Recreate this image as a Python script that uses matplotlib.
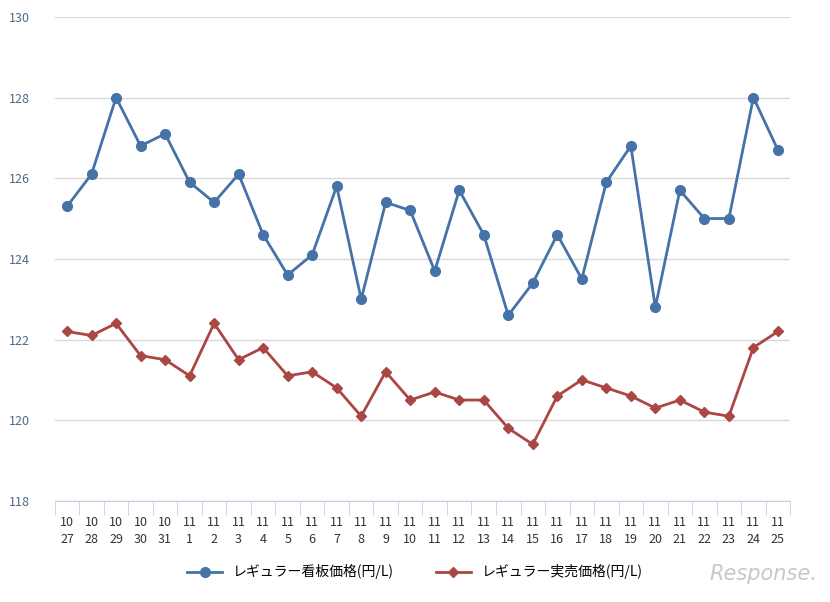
import matplotlib.pyplot as plt

plt.rcParams["font.family"] = "Noto Sans CJK JP"

months = ["10"] * 5 + ["11"] * 25
days = ["27", "28", "29", "30", "31"] + [str(d) for d in range(1, 26)]
board = [125.3, 126.1, 128.0, 126.8, 127.1, 125.9, 125.4, 126.1, 124.6, 123.6,
         124.1, 125.8, 123.0, 125.4, 125.2, 123.7, 125.7, 124.6, 122.6, 123.4,
         124.6, 123.5, 125.9, 126.8, 122.8, 125.7, 125.0, 125.0, 128.0, 126.7]
actual = [122.2, 122.1, 122.4, 121.6, 121.5, 121.1, 122.4, 121.5, 121.8, 121.1,
          121.2, 120.8, 120.1, 121.2, 120.5, 120.7, 120.5, 120.5, 119.8, 119.4,
          120.6, 121.0, 120.8, 120.6, 120.3, 120.5, 120.2, 120.1, 121.8, 122.2]
labels = [m + "\n" + d for m, d in zip(months, days)]

fig = plt.figure(figsize=(8.3, 6.02), dpi=100)
ax = fig.add_axes([0.066, 0.168, 0.886, 0.804])
x = range(len(labels))
ax.plot(x, board, color="#4572a7", lw=2, marker="o", ms=7, label="レギュラー看板価格(円/L)")
ax.plot(x, actual, color="#aa4643", lw=2, marker="D", ms=5, label="レギュラー実売価格(円/L)")

ax.set_xlim(-0.5, len(labels) - 0.5)
ax.set_ylim(118, 130)
ax.set_yticks(range(118, 131, 2))
ax.grid(axis="y", color="#d8d8d8", lw=1)
ax.set_axisbelow(True)
ax.set_xticks(x)
ax.set_xticklabels(labels, fontsize=9, color="#333333", linespacing=1.35)
ax.set_xticks([i - 0.5 for i in range(len(labels) + 1)], minor=True)
ax.tick_params(axis="x", which="major", length=0, pad=11)
ax.tick_params(axis="x", which="minor", length=10, color="#c0d0e0")
ax.tick_params(axis="y", length=0, labelsize=9, labelcolor="#4d6a8a", pad=18)
for s in ["top", "right", "left"]:
    ax.spines[s].set_visible(False)
ax.spines["bottom"].set_color("#c0d0e0")

fig.legend(loc="center", bbox_to_anchor=(0.5, 0.05), ncol=2, frameon=False,
           fontsize=10, columnspacing=3, handlelength=2.5)
fig.text(0.985, 0.03, "Response.", ha="right", va="bottom", fontsize=15,
         color="#c8c8c8", style="italic", family="DejaVu Sans")
fig.savefig("out.png", dpi=100)
